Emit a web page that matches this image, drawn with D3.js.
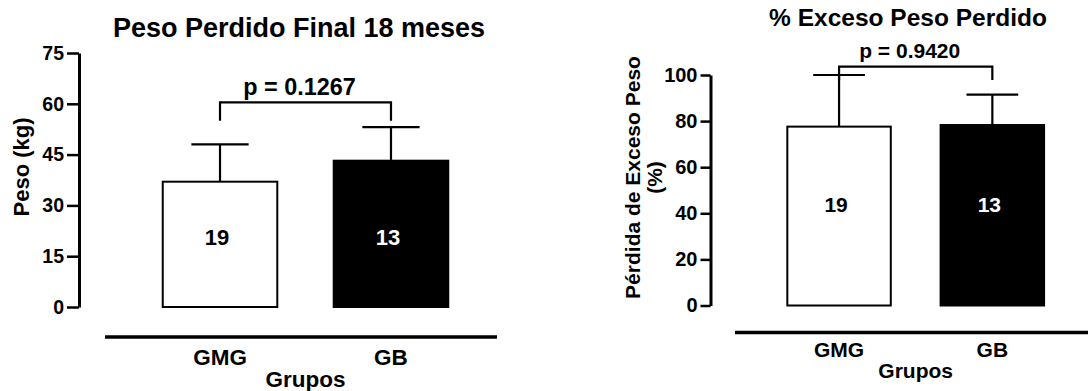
<!DOCTYPE html>
<html>
<head>
<meta charset="utf-8">
<script src="https://cdn.jsdelivr.net/npm/d3@7"></script>
<style>
  html, body { margin: 0; padding: 0; background: #fff; }
  svg { display: block; }
  text { font-family: "Liberation Sans", Arial, sans-serif; font-weight: bold; fill: #000; }
</style>
</head>
<body>
<svg id="chart" width="1088" height="391"></svg>
<script>
// ---------- data ----------
const categories = ["GMG", "GB"];
const counts = [19, 13];

const pesoMean = [37.0, 43.2];
const pesoSD   = [11.0, 9.9];
const pesoTicks = [0, 15, 30, 45, 60, 75];
const pesoP = "p = 0.1267";

const pctMean = [77.6, 78.3];
const pctSD   = [22.4, 13.2];
const pctTicks = [0, 20, 40, 60, 80, 100];
const pctP = "p = 0.9420";

const fills = ["#ffffff", "#000000"];
const labelFills = ["#000000", "#ffffff"];

const svg = d3.select("#chart");

function panel(cfg) {
  const g = svg.append("g");
  const x = d3.scaleBand().domain(categories).range(cfg.band)
    .paddingInner(cfg.padIn).paddingOuter(0.25);
  const y = d3.scaleLinear().domain([0, cfg.max]).range(cfg.yRange);

  // title
  g.append("text").attr("x", cfg.titleX).attr("y", cfg.titleY)
    .attr("text-anchor", "middle").style("font-size", cfg.titleSize + "px")
    .text(cfg.title);

  // y axis
  const ax = g.append("g").attr("transform", `translate(${cfg.axisX},0)`)
    .call(d3.axisLeft(y).tickValues(cfg.ticks).tickSize(cfg.tickLen).tickSizeOuter(0).tickPadding(3));
  ax.select(".domain").attr("stroke", "#000").attr("stroke-width", 3);
  ax.selectAll(".tick line").attr("stroke", "#000").attr("stroke-width", 2.5);
  ax.selectAll(".tick text").style("font-size", cfg.tickSize + "px")
    .style("font-family", '"Liberation Sans", Arial, sans-serif').style("font-weight", "bold")
    .attr("fill", "#000");

  // y label
  cfg.yLabel.forEach((line, i) => {
    g.append("text")
      .attr("transform", `translate(${cfg.yLabelX[i]},${cfg.yLabelY}) rotate(-90)`)
      .attr("text-anchor", "middle").style("font-size", cfg.yLabelSize + "px")
      .text(line);
  });

  // bars
  const bw = x.bandwidth();
  g.selectAll("rect.bar").data(categories).enter().append("rect")
    .attr("x", d => x(d)).attr("width", bw)
    .attr("y", (d, i) => y(cfg.mean[i]))
    .attr("height", (d, i) => y(0) - y(cfg.mean[i]))
    .attr("fill", (d, i) => fills[i]).attr("stroke", "#000").attr("stroke-width", 2);

  // error bars (upper only)
  categories.forEach((c, i) => {
    const cx = x(c) + bw / 2;
    const top = y(cfg.mean[i] + cfg.sd[i]);
    g.append("line").attr("x1", cx).attr("x2", cx)
      .attr("y1", y(cfg.mean[i])).attr("y2", top)
      .attr("stroke", "#000").attr("stroke-width", 2.2);
    g.append("line").attr("x1", cx - bw * 0.25).attr("x2", cx + bw * 0.25)
      .attr("y1", top).attr("y2", top)
      .attr("stroke", "#000").attr("stroke-width", 2.2);
    // n label
    g.append("text").attr("x", cx + cfg.nShift).attr("y", y(cfg.nPos))
      .attr("text-anchor", "middle").style("font-size", cfg.nSize + "px")
      .style("fill", labelFills[i]).text(counts[i]);
  });

  // significance bracket
  const bx1 = x(categories[0]) + bw / 2, bx2 = x(categories[1]) + bw / 2;
  const by = y(cfg.bracket[0]), bl = y(cfg.bracket[1]);
  g.append("path")
    .attr("d", `M${bx1},${bl}V${by}H${bx2}V${bl}`)
    .attr("fill", "none").attr("stroke", "#000").attr("stroke-width", 2.2);
  g.append("text").attr("x", (bx1 + bx2) / 2 - 6).attr("y", by - cfg.pGap)
    .attr("text-anchor", "middle").style("font-size", cfg.pSize + "px")
    .text(cfg.p);

  // x baseline & labels
  g.append("line").attr("x1", cfg.baseX[0]).attr("x2", cfg.baseX[1])
    .attr("y1", cfg.baseY).attr("y2", cfg.baseY)
    .attr("stroke", "#000").attr("stroke-width", 3.5);
  categories.forEach(c => {
    g.append("text").attr("x", x(c) + bw / 2).attr("y", cfg.catY)
      .attr("text-anchor", "middle").style("font-size", cfg.catSize + "px").text(c);
  });
  g.append("text").attr("x", (cfg.band[0] + cfg.band[1]) / 2).attr("y", cfg.grpY)
    .attr("text-anchor", "middle").style("font-size", cfg.catSize + "px").text("Grupos");
}

panel({
  title: "Peso Perdido Final 18 meses", titleX: 299, titleY: 36.5, titleSize: 27,
  band: [120, 491], padIn: 0.33, max: 75, yRange: [307, 53], ticks: pesoTicks,
  axisX: 79, tickLen: 12, tickSize: 19.5,
  yLabel: ["Peso (kg)"], yLabelX: [29], yLabelY: 167, yLabelSize: 22,
  mean: pesoMean, sd: pesoSD, nPos: 18.3, nSize: 22, nShift: -3,
  bracket: [60.4, 55], pGap: 7.5, pSize: 23.4, p: pesoP,
  baseX: [105, 497], baseY: 337, catY: 365, catSize: 22.5, grpY: 387
});

panel({
  title: "% Exceso Peso Perdido", titleX: 908, titleY: 26, titleSize: 24.5,
  band: [749, 1082.4], padIn: 0.325, max: 100, yRange: [305.5, 75], ticks: pctTicks,
  axisX: 710.5, tickLen: 10, tickSize: 20,
  yLabel: ["Pérdida de Exceso Peso", "(%)"], yLabelX: [640, 662], yLabelY: 177.5, yLabelSize: 21,
  mean: pctMean, sd: pctSD, nPos: 40.4, nSize: 21, nShift: -3,
  bracket: [103.6, 97.8], pGap: 8.5, pSize: 21, p: pctP,
  baseX: [735, 1088], baseY: 332.5, catY: 356.7, catSize: 21, grpY: 378.3
});
</script>
</body>
</html>
